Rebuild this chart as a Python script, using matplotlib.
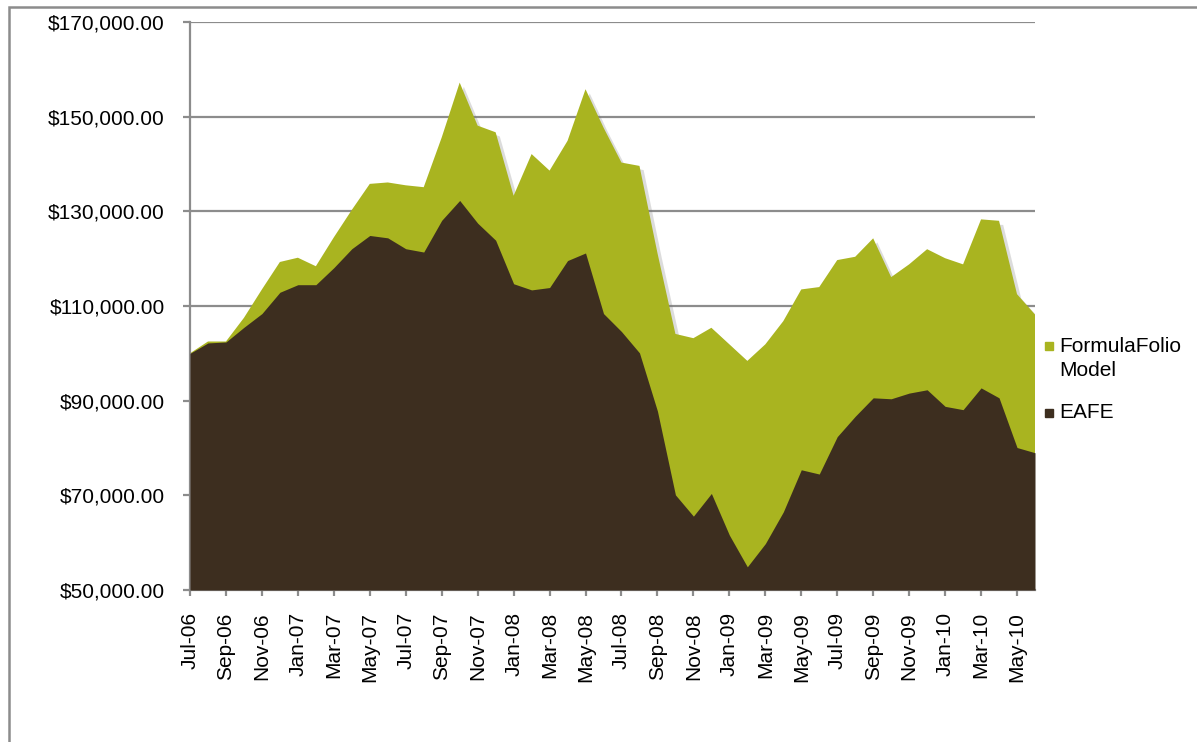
import matplotlib
matplotlib.use("Agg")
import matplotlib.pyplot as plt
import matplotlib.patheffects as pe
from matplotlib.patches import Rectangle
import pandas as pd

# monthly values, Jul-06 .. Jun-10
months = pd.date_range("2006-07-01", periods=48, freq="MS").strftime("%b-%y").tolist()

formulafolio = [100000, 102500, 102500, 107500, 113500, 119300, 120200, 118400,
                124500, 130300, 135800, 136100, 135500, 135100, 145600, 157200,
                148100, 146700, 133300, 142100, 138600, 144900, 155800, 147700,
                140300, 139600, 121200, 104100, 103200, 105400, 101900, 98400,
                101900, 106800, 113500, 114000, 119700, 120400, 124300, 116100,
                118800, 122000, 120100, 118800, 128300, 128000, 112500, 108200]

eafe = [100000, 102200, 102400, 105500, 108400, 112900, 114500, 114500,
        118100, 122100, 124900, 124400, 122100, 121400, 128100, 132300,
        127500, 123900, 114700, 113400, 113900, 119600, 121200, 108400,
        104600, 100100, 87800, 70100, 65600, 70400, 61600, 54900,
        59800, 66500, 75400, 74500, 82400, 86700, 90600, 90400,
        91600, 92300, 88800, 88100, 92700, 90600, 80100, 79000]

series_names = ["FormulaFolio\nModel", "EAFE"]

GREEN = "#A9B420"
BROWN = "#3D2E1F"
GRAY = "#8C8C8C"

plt.rcParams["font.family"] = ["Liberation Sans", "DejaVu Sans"]

fig = plt.figure(figsize=(11.97, 7.42), dpi=100)
ax = fig.add_axes([190 / 1197, 1 - 590 / 742, (1035 - 190) / 1197, (590 - 22) / 742])

x = list(range(len(months)))
base = 50000
shadow = [pe.SimplePatchShadow(offset=(3, -3), shadow_rgbFace="#777777", alpha=0.25), pe.Normal()]
ax.fill_between(x, base, formulafolio, color=GREEN, lw=0, zorder=2, path_effects=shadow)
ax.fill_between(x, base, eafe, color=BROWN, lw=0, zorder=3)

ax.set_xlim(0, len(months) - 1)
ax.set_ylim(50000, 170000)
ax.set_yticks(range(50000, 170001, 20000))
ax.set_yticklabels([f"${v:,.2f}" for v in range(50000, 170001, 20000)], fontsize=15)
ax.set_xticks(x[::2])
ax.set_xticklabels(months[::2], rotation=90, fontsize=15)

ax.set_axisbelow(True)
ax.grid(axis="y", color=GRAY, lw=1.6)
for s in ["top", "right"]:
    ax.spines[s].set_visible(False)
for s in ["left", "bottom"]:
    ax.spines[s].set_color(GRAY)
    ax.spines[s].set_linewidth(1.6)
ax.tick_params(axis="y", length=5, width=1.6, color=GRAY, pad=13)
ax.tick_params(axis="x", length=4, width=1.6, color=GRAY, pad=12)

# legend
fig.patches.append(Rectangle((1045 / 1197, 1 - 350 / 742), 8 / 1197, 8 / 742,
                             transform=fig.transFigure, color=GREEN))
fig.text(1059 / 1197, 1 - 346 / 742, "FormulaFolio", fontsize=15, va="center", ha="left")
fig.text(1059 / 1197, 1 - 371 / 742, "Model", fontsize=15, va="center", ha="left")
fig.patches.append(Rectangle((1045 / 1197, 1 - 417 / 742), 8 / 1197, 8 / 742,
                             transform=fig.transFigure, color=BROWN))
fig.text(1059 / 1197, 1 - 413 / 742, series_names[1], fontsize=15, va="center", ha="left")

# outer frame
fig.patches.append(Rectangle((9 / 1197, -0.1), 1.2, 1.1 - 7 / 742, transform=fig.transFigure,
                             fill=False, edgecolor=GRAY, lw=1.8))

fig.savefig("out.png", dpi=100)
